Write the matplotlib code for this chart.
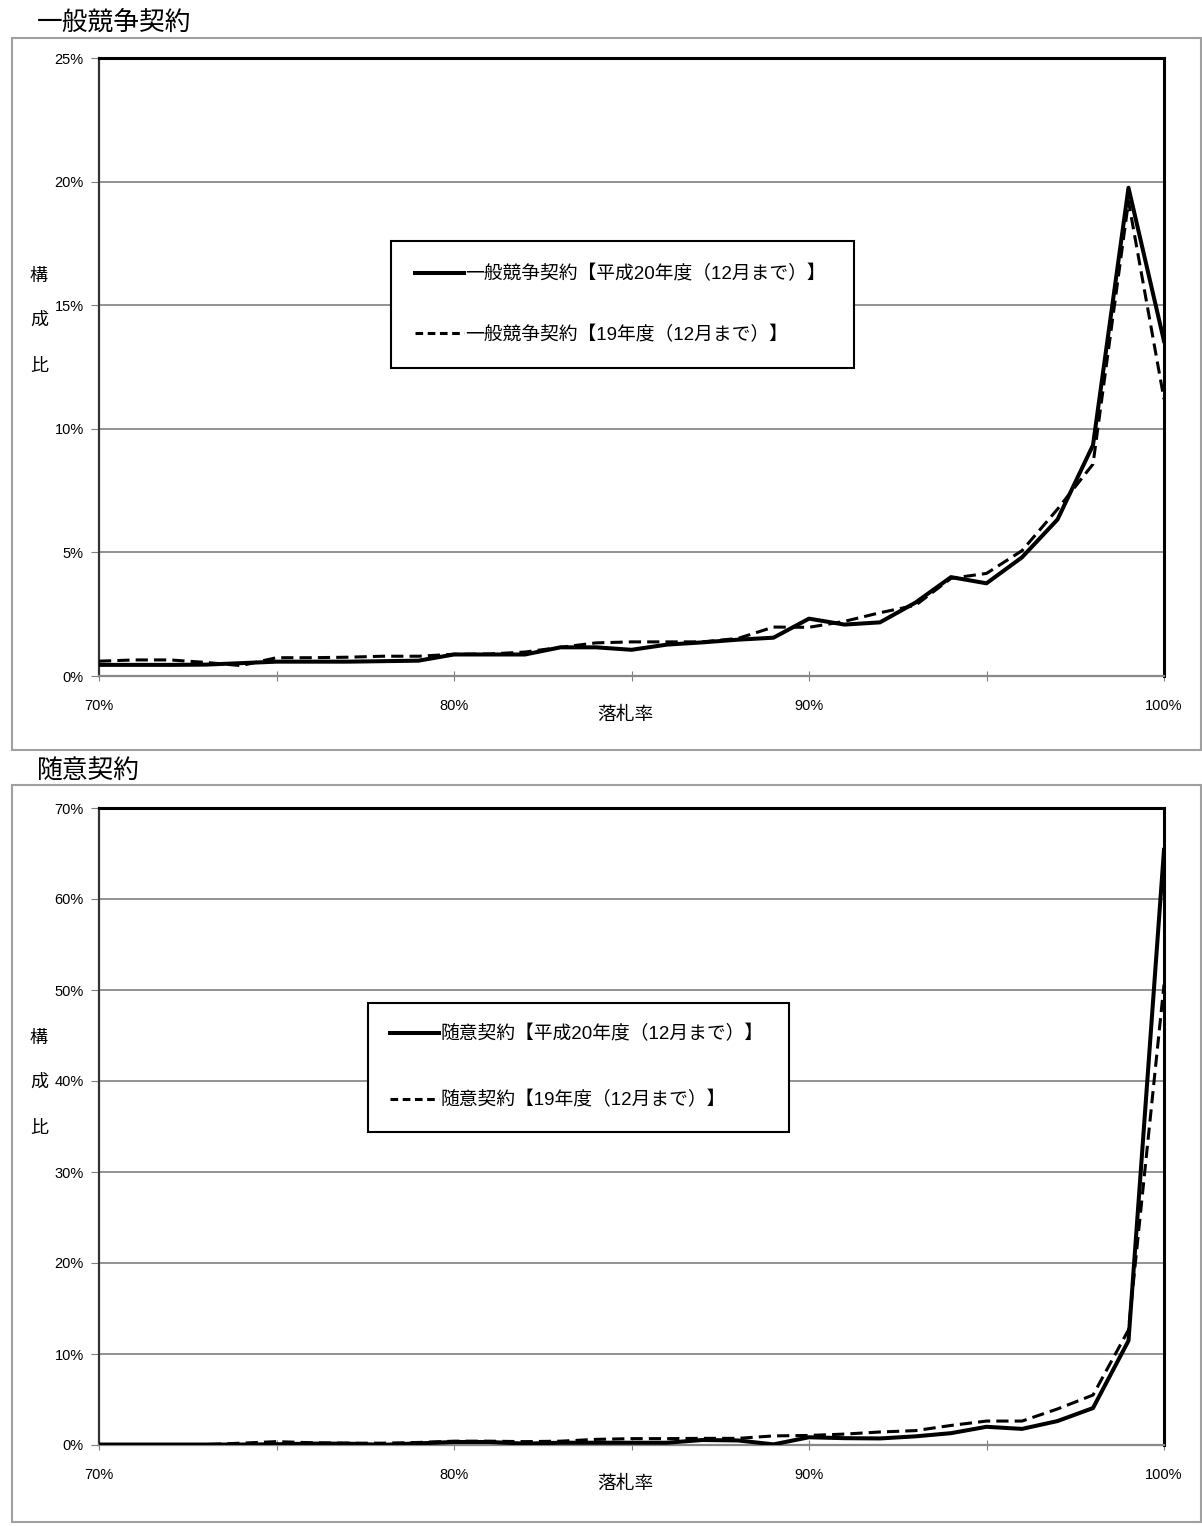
import matplotlib.pyplot as plt
from matplotlib.patches import Rectangle
from matplotlib.lines import Line2D
import numpy as np

plt.rcParams['font.family'] = ['Liberation Sans', 'Noto Sans CJK JP']

# 落札率 (%), 1% steps
rates = list(range(70, 101))

# 一般競争契約 構成比 (%)
ippan_h20 = [0.45, 0.45, 0.45, 0.46, 0.52, 0.58, 0.58, 0.58, 0.60, 0.62,
             0.87, 0.87, 0.87, 1.16, 1.16, 1.06, 1.27, 1.36, 1.47, 1.55,
             2.32, 2.08, 2.17, 2.97, 4.00, 3.75, 4.80, 6.33, 9.34, 19.75, 13.55]
ippan_h19 = [0.60, 0.65, 0.65, 0.55, 0.42, 0.74, 0.74, 0.76, 0.80, 0.80,
             0.88, 0.89, 0.97, 1.16, 1.34, 1.38, 1.38, 1.38, 1.52, 1.98,
             1.97, 2.21, 2.56, 2.86, 3.95, 4.15, 5.07, 6.75, 8.57, 19.20, 11.20]

# 随意契約 構成比 (%)
zuii_h20 = [0.05, 0.05, 0.05, 0.05, 0.05, 0.08, 0.15, 0.15, 0.02, 0.18,
            0.33, 0.33, 0.15, 0.25, 0.25, 0.25, 0.25, 0.55, 0.50, 0.07,
            0.85, 0.75, 0.72, 0.95, 1.30, 2.00, 1.77, 2.63, 4.06, 11.46, 65.40]
zuii_h19 = [0.05, 0.05, 0.05, 0.05, 0.20, 0.37, 0.25, 0.20, 0.20, 0.28,
            0.42, 0.42, 0.37, 0.42, 0.62, 0.70, 0.70, 0.73, 0.73, 1.00,
            1.05, 1.20, 1.43, 1.58, 2.15, 2.63, 2.63, 3.96, 5.49, 12.65, 50.60]

W, H = 1202, 1526


def fx(px):
    return px / W


def fy(py):
    return 1 - py / H


def draw_panel(ax, h20, h19, name, ymax, ystep, leg_x, leg_w, leg_top, lspace, bpad):
    ax.plot(rates, h19, color='black', lw=2.2, dashes=(4, 2), zorder=3)
    ax.plot(rates, h20, color='black', lw=2.9, zorder=4)

    ax.set_xlim(70, 100)
    ax.set_ylim(0, ymax)
    xt = list(range(70, 101, 5))
    ax.set_xticks(xt)
    ax.set_xticklabels([f'{v}%' if v % 10 == 0 else '' for v in xt], fontsize=10.5)
    yt = list(range(0, ymax + 1, ystep))
    ax.set_yticks(yt)
    ax.set_yticklabels([f'{v}%' for v in yt], fontsize=10.5)
    ax.tick_params(axis='x', direction='inout', length=7, color='#808080', pad=13)
    ax.tick_params(axis='y', direction='out', length=6, color='#808080', pad=5)

    ax.yaxis.grid(True, color='#808080', lw=1.2)
    ax.set_axisbelow(True)
    for s in ['top', 'right']:
        ax.spines[s].set_color('black')
        ax.spines[s].set_linewidth(2.2)
    ax.spines['left'].set_color('#333333')
    ax.spines['left'].set_linewidth(1.6)
    ax.spines['bottom'].set_color('#888888')
    ax.spines['bottom'].set_linewidth(1.6)

    ax.annotate('落札率', xy=(0.5, 0), xycoords='axes fraction', xytext=(-6, -39),
                textcoords='offset pixels', ha='center', va='center', fontsize=13.5)

    handles = [Line2D([], [], color='black', lw=2.9),
               Line2D([], [], color='black', lw=2.2, dashes=(2.5, 1.5))]
    labels = [f'{name}【平成20年度（12月まで）】', f'{name}【19年度（12月まで）】']
    leg = ax.legend(handles, labels, loc='upper left',
                    bbox_to_anchor=(leg_x, leg_top, leg_w, 0), mode='expand',
                    borderaxespad=0, borderpad=bpad, labelspacing=lspace,
                    handlelength=2.6, handletextpad=0.1, fontsize=13.5,
                    frameon=True, fancybox=False, edgecolor='black', framealpha=1)
    leg.get_frame().set_linewidth(1.5)


fig = plt.figure(figsize=(W / 100, H / 100), dpi=100)

# outer chart-area frames
for top, bot in [(38, 750), (785, 1522)]:
    fig.add_artist(Rectangle((fx(12), fy(bot)), fx(1201) - fx(12), fy(top) - fy(bot),
                             transform=fig.transFigure, fill=False,
                             edgecolor='#a0a0a0', lw=1.5))

ax1 = fig.add_axes([fx(99), fy(676), fx(1164) - fx(99), fy(58) - fy(676)])
ax2 = fig.add_axes([fx(99), fy(1445), fx(1164) - fx(99), fy(808) - fy(1445)])

draw_panel(ax1, ippan_h20, ippan_h19, '一般競争契約', 25, 5,
           (391 - 99) / 1065, 463 / 1065, (676 - 241) / 618, 2.27, 1.27)
draw_panel(ax2, zuii_h20, zuii_h19, '随意契約', 70, 10,
           (368 - 99) / 1065, 421 / 1065, (1445 - 1003) / 637, 2.54, 1.19)

fig.text(fx(37), fy(23), '一般競争契約', fontsize=18.5, ha='left', va='center')
fig.text(fx(37), fy(772), '随意契約', fontsize=18.5, ha='left', va='center')

for ys in [(276, 320, 366), (1038, 1082, 1128)]:
    for ch, y in zip('構成比', ys):
        fig.text(fx(39), fy(y), ch, fontsize=13, ha='center', va='center')

fig.savefig('out.png', dpi=100)
